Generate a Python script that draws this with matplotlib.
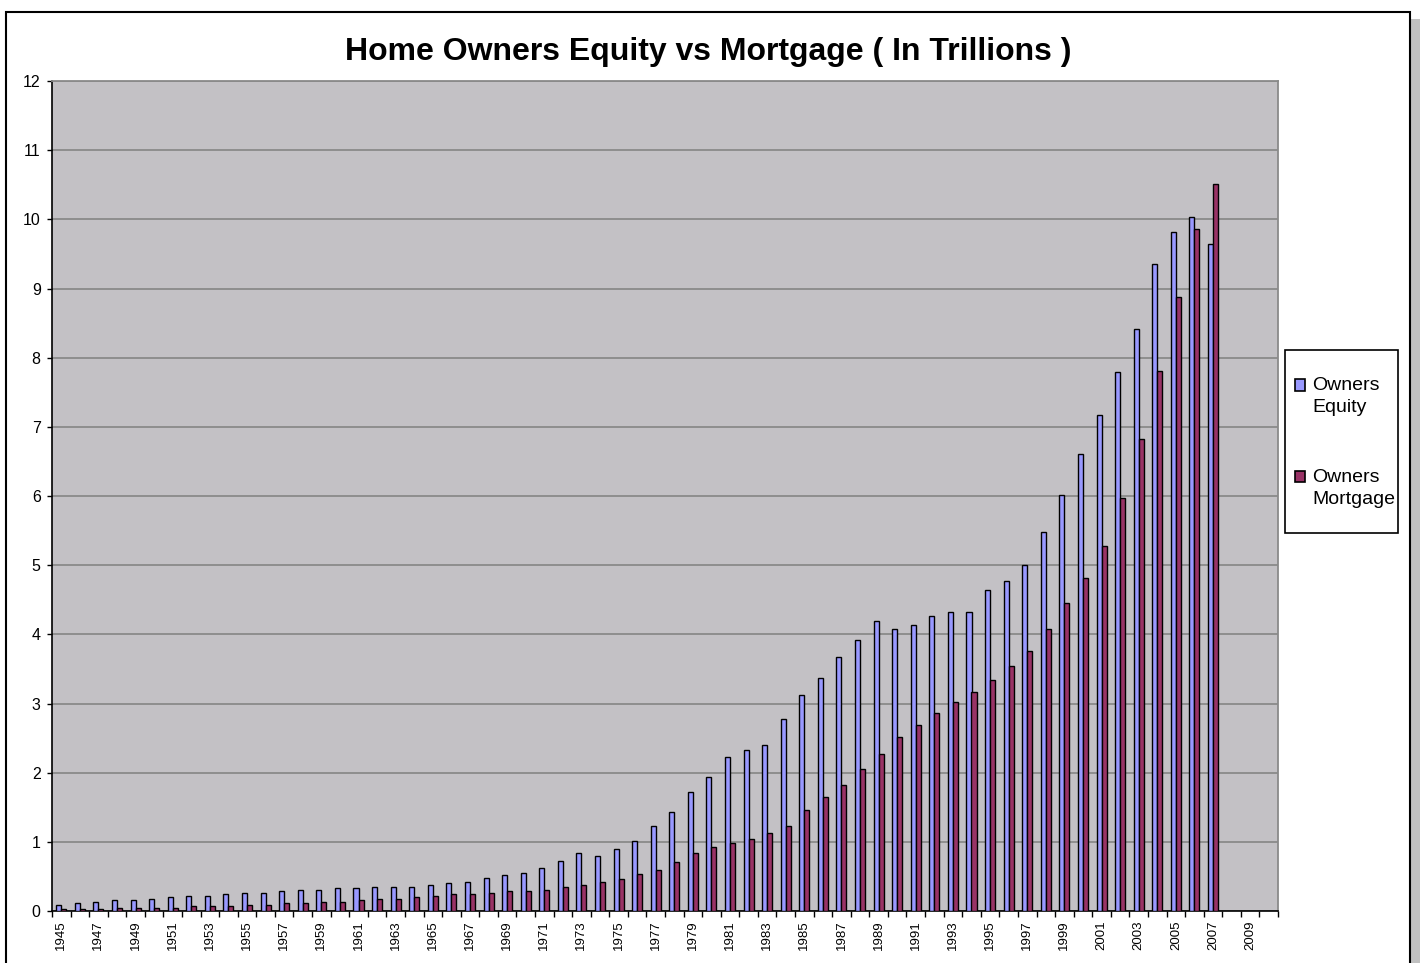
import numpy as np
import matplotlib
matplotlib.use('Agg')
import matplotlib.pyplot as plt
from matplotlib.patches import Rectangle

plt.rcParams['font.family'] = ['Liberation Sans', 'DejaVu Sans']

anos = list(range(1945, 2011))
equity = [0.09, 0.11, 0.135, 0.155, 0.155, 0.18, 0.2, 0.22, 0.22, 0.245,
          0.265, 0.265, 0.29, 0.31, 0.31, 0.33, 0.33, 0.35, 0.35, 0.35,
          0.375, 0.40, 0.42, 0.48, 0.525, 0.55, 0.615, 0.73, 0.84, 0.79,
          0.9, 1.01, 1.23, 1.43, 1.72, 1.94, 2.23, 2.33, 2.40, 2.78,
          3.12, 3.37, 3.67, 3.92, 4.20, 4.07, 4.135, 4.27, 4.33, 4.33,
          4.645, 4.775, 5.0, 5.48, 6.01, 6.61, 7.175, 7.79, 8.41, 9.35,
          9.82, 10.04, 9.64]
mortgage = [0.03, 0.03, 0.03, 0.05, 0.05, 0.05, 0.05, 0.07, 0.07, 0.07,
            0.09, 0.09, 0.11, 0.11, 0.135, 0.135, 0.155, 0.18, 0.18, 0.2,
            0.22, 0.24, 0.24, 0.26, 0.285, 0.285, 0.31, 0.35, 0.375, 0.42,
            0.46, 0.53, 0.60, 0.71, 0.84, 0.925, 0.99, 1.04, 1.13, 1.23,
            1.455, 1.65, 1.825, 2.05, 2.27, 2.51, 2.685, 2.86, 3.02, 3.17,
            3.345, 3.54, 3.76, 4.07, 4.45, 4.82, 5.28, 5.97, 6.82, 7.81,
            8.88, 9.86, 10.51]

n = len(anos)
eq = np.full(n, np.nan)
eq[:len(equity)] = equity
mo = np.full(n, np.nan)
mo[:len(mortgage)] = mortgage
x = np.arange(n)

fig = plt.figure(figsize=(14.2, 9.63), dpi=100)

# moldura do grafico + sombra
fig.patches.append(Rectangle((1411/1420, -0.05), 9/1420, (963-19)/963 + 0.05,
                             transform=fig.transFigure, facecolor='#c0c0c0',
                             edgecolor='none', zorder=-2))
fig.patches.append(Rectangle((6/1420, -0.05), 1404/1420, (963-12)/963 + 0.05,
                             transform=fig.transFigure, facecolor='none',
                             edgecolor='black', linewidth=1.5, zorder=-2))
# caixa da legenda (atras do axes, a legenda fica por cima)
fig.patches.append(Rectangle((1285/1420, 1 - 533/963), 113/1420, 183/963,
                             transform=fig.transFigure, facecolor='white',
                             edgecolor='black', linewidth=1.2, zorder=-1))

ax = fig.add_axes([52/1420, 52/963, 1226/1420, 830/963])
ax.set_facecolor('#c3c1c5')

w = 0.27
ax.bar(x - w/2, eq, w, color='#9999ff', edgecolor='black', linewidth=1,
       label='Owners\nEquity', zorder=3)
ax.bar(x + w/2, mo, w, color='#993366', edgecolor='black', linewidth=1,
       label='Owners\nMortgage', zorder=3)

ax.set_xlim(-0.5, n - 0.5)
ax.set_ylim(0, 12)
ax.set_yticks(range(0, 13))
ax.yaxis.grid(True, color='#8a8a8a', linewidth=1.3, zorder=1)
ax.set_axisbelow(True)
ax.tick_params(axis='y', labelsize=11.5, length=3.6, width=1, pad=4.5,
               direction='out', colors='black')

# ticks nas divisas das categorias, rotulos a cada dois anos
ax.set_xticks(np.arange(-0.5, n, 1))
ax.set_xticklabels([])
ax.set_xticks(x[::2], minor=True)
ax.set_xticklabels([str(a) for a in anos[::2]], minor=True, rotation=90,
                   fontsize=9.5)
ax.tick_params(axis='x', which='major', length=4, width=1, direction='out')
ax.tick_params(axis='x', which='minor', length=0, pad=7)

for s in ['top', 'right']:
    ax.spines[s].set_color('#8a8a8a')
    ax.spines[s].set_linewidth(1.3)
for s in ['left', 'bottom']:
    ax.spines[s].set_color('black')
    ax.spines[s].set_linewidth(1.2)

fig.text(708/1420, 1 - 52/963, 'Home Owners Equity vs Mortgage ( In Trillions )',
         ha='center', va='center', fontsize=23, fontweight='bold')

leg = ax.legend(loc='upper left', bbox_to_anchor=(1295/1420, 1 - 377/963),
                bbox_transform=fig.transFigure, borderaxespad=0, borderpad=0,
                fontsize=14, frameon=False, handlelength=0.52,
                handleheight=0.52, handletextpad=0.35, labelspacing=2.7)
for t in leg.get_texts():
    t.set_linespacing(1.4)
# quadradinho alinhado com a primeira linha do texto
for h in leg.legend_handles:
    h.set_y(h.get_y() + 8)
    h.set_linewidth(1.2)

fig.savefig('out.png', dpi=100)
